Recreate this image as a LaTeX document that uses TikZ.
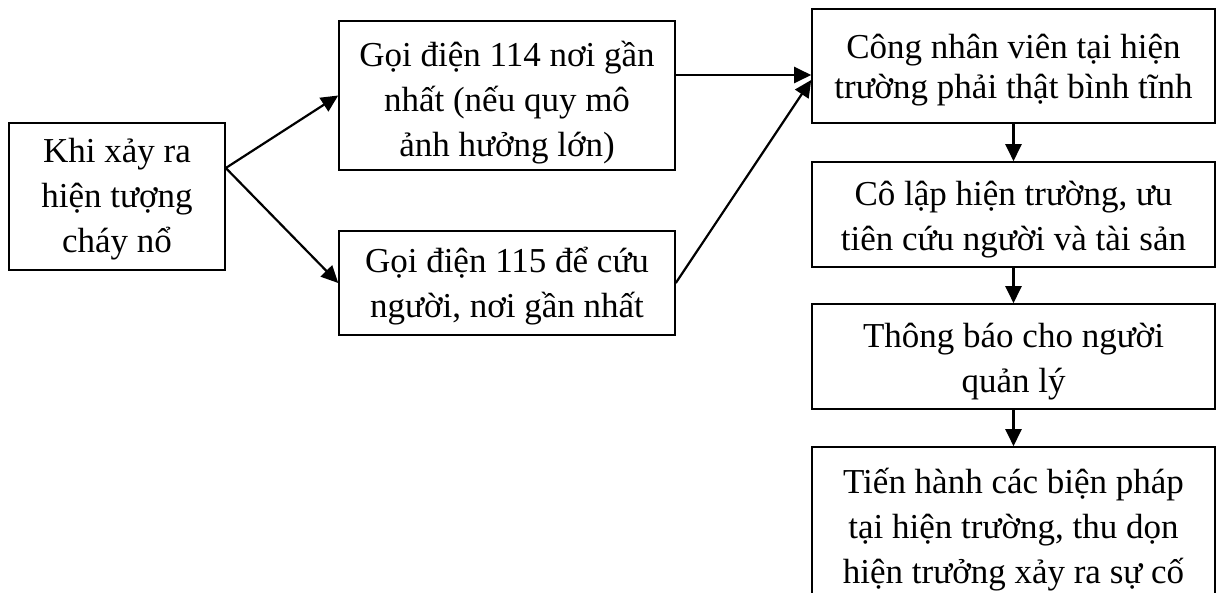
\documentclass[tikz,border=0pt]{standalone}
\usepackage{fontspec}
\setmainfont{Liberation Serif}
\usetikzlibrary{arrows.meta}
\begin{document}
\begin{tikzpicture}[x=1pt,y=-1pt,
  box/.style={draw=black,line width=1.6pt,rectangle,inner sep=0pt},
  lbl/.style={inner sep=0pt,align=center,font=\fontsize{35}{45}\selectfont},
  arr/.style={line width=2.2pt,-{Triangle[length=17pt,width=16pt]}}]
\useasboundingbox (0,0) rectangle (1216,592);
\clip (0,0) rectangle (1216,592);
\node[box,minimum width=216pt,minimum height=147pt] (b1) at (117,196.5) {};
\node[box,minimum width=336pt,minimum height=149pt] (b2) at (507,95.5) {};
\node[box,minimum width=336pt,minimum height=104pt] (b3) at (507,283) {};
\node[box,minimum width=403pt,minimum height=114pt] (b4) at (1013.5,66) {};
\node[box,minimum width=403pt,minimum height=105pt] (b5) at (1013.5,214.5) {};
\node[box,minimum width=403pt,minimum height=105pt] (b6) at (1013.5,356.5) {};
\node[box,minimum width=403pt,minimum height=160pt] (b7) at (1013.5,527) {};
\node[lbl] (t1) at ([yshift=-3pt]b1.center) {Khi xảy ra\\hiện tượng\\cháy nổ};
\node[lbl] (t2) at ([yshift=-7pt]b2.center) {Gọi điện 114 nơi gần\\nhất (nếu quy mô\\ảnh hưởng lớn)};
\node[lbl] (t3) at ([yshift=-3pt]b3.center) {Gọi điện 115 để cứu\\người, nơi gần nhất};
\node[lbl,font=\fontsize{35}{40}\selectfont] (t4) at ([yshift=-4pt]b4.center) {Công nhân viên tại hiện\\trường phải thật bình tĩnh};
\node[lbl] (t5) at ([yshift=-5pt]b5.center) {Cô lập hiện trường, ưu\\tiên cứu người và tài sản};
\node[lbl] (t6) at ([yshift=-5pt]b6.center) {Thông báo cho người\\quản lý};
\node[lbl] (t7) at ([yshift=-3pt]b7.center) {Tiến hành các biện pháp\\tại hiện trường, thu dọn\\hiện trưởng xảy ra sự cố};
\draw[arr] ([yshift=28.5pt]b1.east) -- (b2.west);
\draw[arr] ([yshift=28.5pt]b1.east) -- (b3.west);
\draw[arr] ([yshift=20.5pt]b2.east) -- ([yshift=-9pt]b4.west);
\draw[arr] (b3.east) -- ([yshift=-14pt]b4.west);
\draw[arr] (b4.south) -- (b5.north);
\draw[arr] (b5.south) -- (b6.north);
\draw[arr] (b6.south) -- (b7.north);
\end{tikzpicture}
\end{document}
